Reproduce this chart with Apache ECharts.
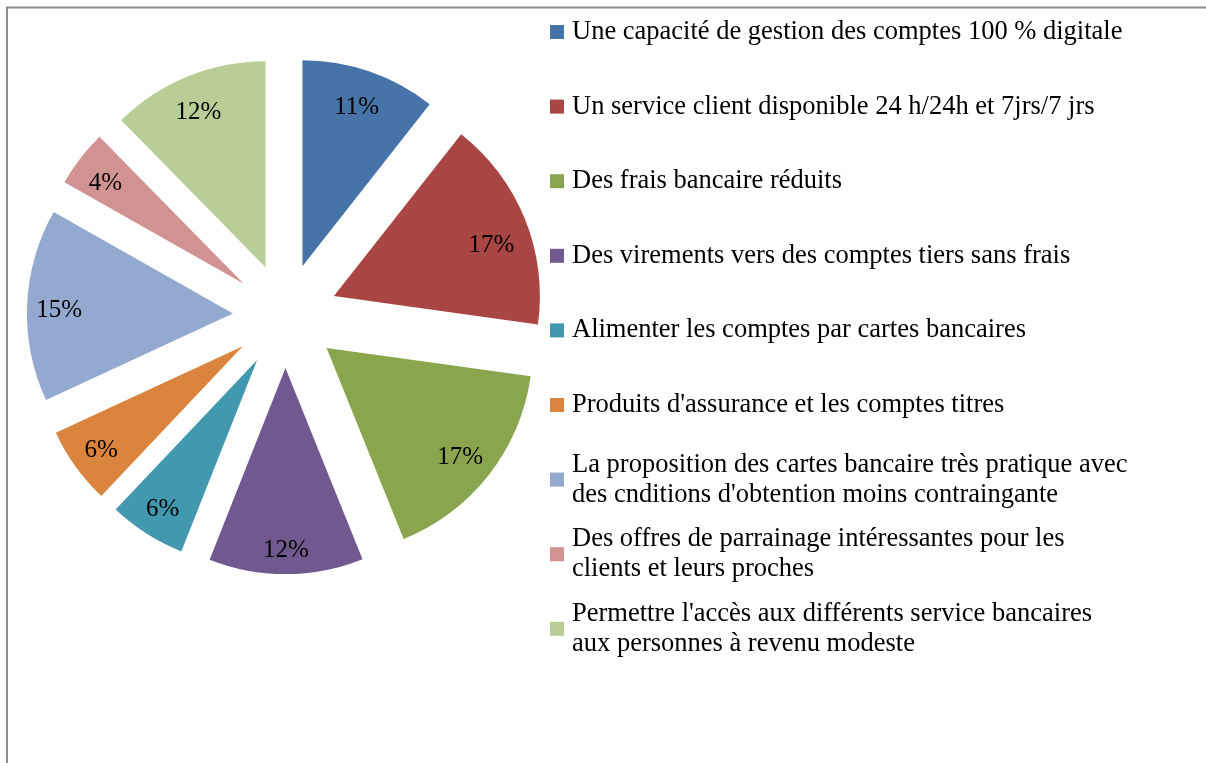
<!DOCTYPE html>
<html>
<head>
<meta charset="utf-8">
<script src="https://cdn.jsdelivr.net/npm/echarts@6/dist/echarts.min.js"></script>
<style>
  html, body { margin: 0; padding: 0; background: #fff; }
  #chart { width: 1206px; height: 763px; }
</style>
</head>
<body>
<div id="chart"></div>
<script>
var categories = [
  'Une capacité de gestion des comptes 100 % digitale',
  'Un service client disponible 24 h/24h et 7jrs/7 jrs',
  'Des frais bancaire réduits',
  'Des virements vers des comptes tiers sans frais',
  'Alimenter les comptes par cartes bancaires',
  "Produits d'assurance et les comptes titres",
  "La proposition des cartes bancaire très pratique avec\ndes cnditions d'obtention moins contraingante",
  'Des offres de parrainage intéressantes pour les\nclients et leurs proches',
  "Permettre l'accès aux différents service bancaires\naux personnes à revenu modeste"
]
var values = [10.6, 16.6, 16.7, 12.1, 6.05, 6.05, 15.1, 4.45, 12.35]
var colors = ['#4674a9', '#a94643', '#89a54e', '#71588f', '#4198af', '#db843d', '#93a9cf', '#d19392', '#b9cd96']

var myChart = echarts.init(document.getElementById('chart'))

// petits décalages des étiquettes, Excel ne les place pas tous au même rayon
var labelShift = { 1: [-2, 14], 3: [0, 10] }

var pieData = []
var labelData = []
for (let i = 0; i < categories.length; i++) {
  pieData.push({ name: categories[i], value: values[i], selected: true, itemStyle: { color: colors[i] } })
  labelData.push({ name: categories[i], value: values[i], selected: true })
}

// une légende par entrée pour garder un pas régulier comme dans Excel
var legends = []
for (let i = 0; i < categories.length; i++) {
  let twoLines = categories[i].indexOf('\n') >= 0
  let markerY = 32 + i * 74.6
  legends.push({
    orient: 'vertical',
    left: 550,
    top: twoLines ? markerY - 45 : markerY - 15,
    padding: 0,
    itemWidth: 14,
    itemHeight: 14,
    itemGap: 0,
    icon: 'rect',
    selectedMode: false,
    data: [categories[i]],
    textStyle: {
      fontFamily: 'Liberation Serif',
      fontSize: 26.5,
      color: '#000',
      lineHeight: 30,
      padding: twoLines ? [30, 0, 0, 3] : [0, 0, 0, 3]
    }
  })
}

myChart.setOption({
  animation: false,
  color: colors,
  legend: legends,
  graphic: [{
    type: 'rect',
    shape: { x: 7, y: 7.5, width: 1260, height: 800 },
    style: { fill: 'none', stroke: '#8c8c8c', lineWidth: 2 },
    silent: true
  }],
  series: [
    {
      name: 'parts',
      type: 'pie',
      center: [285.3, 315.7],
      radius: [0, 206],
      startAngle: 90,
      selectedMode: 'multiple',
      selectedOffset: 52.4,
      label: { show: false },
      labelLine: { show: false },
      emphasis: { disabled: true },
      select: { itemStyle: { borderWidth: 0 } },
      data: pieData
    },
    {
      name: 'etiquettes',
      type: 'pie',
      center: [285.3, 315.7],
      radius: [132, 206],
      startAngle: 90,
      selectedMode: 'multiple',
      selectedOffset: 52.4,
      silent: true,
      legendHoverLink: false,
      itemStyle: { color: 'rgba(0,0,0,0)' },
      label: {
        show: true,
        position: 'inside',
        formatter: function (p) { return Math.round(p.value) + '%' },
        fontFamily: 'Liberation Serif',
        fontSize: 25,
        color: '#000'
      },
      labelLayout: function (params) {
        let s = labelShift[params.dataIndex] || [-2, 4]
        return { dx: s[0], dy: s[1] }
      },
      labelLine: { show: false },
      emphasis: { disabled: true },
      data: labelData
    }
  ]
})
</script>
</body>
</html>
